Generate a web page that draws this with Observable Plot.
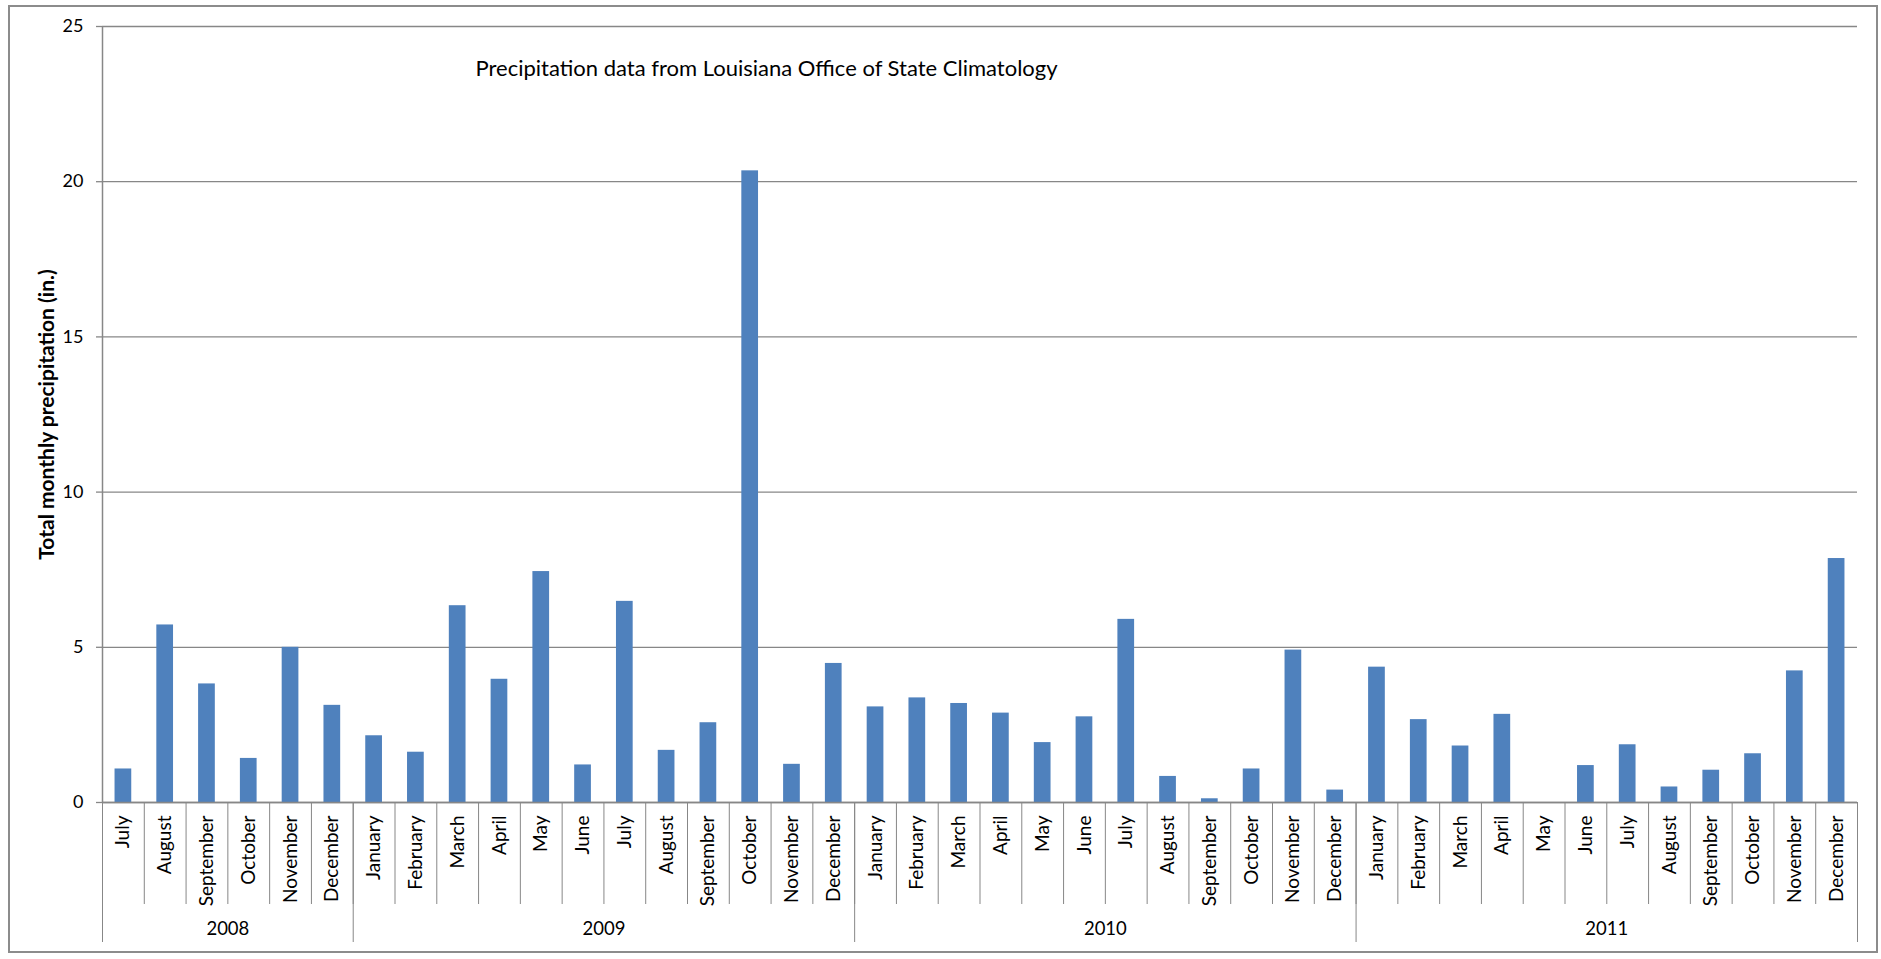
<!DOCTYPE html>
<html>
<head>
<meta charset="utf-8">
<script src="https://cdn.jsdelivr.net/npm/d3@7"></script>
<script src="https://cdn.jsdelivr.net/npm/@observablehq/plot@0.6"></script>
<style>
  html, body { margin: 0; padding: 0; background: #fff; overflow: hidden; }
  #wrap { position: relative; width: 1881px; height: 959px; }
  #border { position: absolute; left: 8px; top: 5px; width: 1866px; height: 944px;
            border: 2px solid #8c8c8c; pointer-events: none; }
</style>
</head>
<body>
<div id="wrap"><div id="border"></div></div>
<script>
const title = "Precipitation data from Louisiana Office of State Climatology";
const yLabel = "Total monthly precipitation (in.)";
const years = ["2008", "2009", "2010", "2011"];
const months2008 = ["July", "August", "September", "October", "November", "December"];
const monthsFull = ["January", "February", "March", "April", "May", "June", "July",
  "August", "September", "October", "November", "December"];
const values2008 = [1.08, 5.72, 3.82, 1.42, 5.00, 3.13];
const values2009 = [2.15, 1.62, 6.34, 3.97, 7.44, 1.21, 6.48, 1.68, 2.57, 20.35, 1.23, 4.48];
const values2010 = [3.08, 3.37, 3.19, 2.88, 1.93, 2.76, 5.90, 0.84, 0.12, 1.08, 4.91, 0.40];
const values2011 = [4.36, 2.67, 1.82, 2.84, 0.00, 1.19, 1.86, 0.50, 1.04, 1.57, 4.24, 7.86];
const yTicks = [0, 5, 10, 15, 20, 25];

// build table
const groups = [
  {year: years[0], months: months2008, values: values2008},
  {year: years[1], months: monthsFull, values: values2009},
  {year: years[2], months: monthsFull, values: values2010},
  {year: years[3], months: monthsFull, values: values2011}
];
const data = [];
const yearSpans = [];
let idx = 0;
for (const g of groups) {
  const start = idx;
  g.months.forEach((m, k) => { data.push({i: idx, month: m, year: g.year, value: g.values[k]}); idx++; });
  yearSpans.push({year: g.year, start, end: idx});
}
const n = data.length;
const monthBounds = d3.range(0, n + 1);
const yearBounds = [0, ...yearSpans.map(s => s.end)];

const W = 1881, H = 959;
const mL = 102, mR = 24, mT = 26, mB = 157;
const step = (W - mL - mR) / n;
const inset = step * 0.3;
const gray = "#878787";
const font = "Lato, 'Open Sans', sans-serif";

const chart = Plot.plot({
  width: W, height: H,
  marginLeft: mL, marginRight: mR, marginTop: mT, marginBottom: mB,
  style: {fontFamily: font, background: "white", color: "black", overflow: "visible"},
  x: {domain: [0, n], axis: null},
  y: {domain: [0, 25], axis: null},
  marks: [
    // gridlines
    Plot.ruleY(yTicks, {stroke: gray, strokeWidth: 1.3}),
    // y ticks
    Plot.ruleY(yTicks, {x1: 0, x2: 0, insetLeft: -6, stroke: gray, strokeWidth: 1.3}),
    Plot.text(yTicks, {x: 0, y: d => d, text: d => String(d), textAnchor: "end", dx: -19, fontSize: 18, fill: "black"}),
    // bars
    Plot.rectY(data, {x1: "i", x2: d => d.i + 1, y: "value", fill: "#4F81BD", insetLeft: inset, insetRight: inset}),
    // y axis line
    Plot.ruleX([0], {stroke: gray, strokeWidth: 1.5}),
    // month separators and year separators below axis
    Plot.ruleX(monthBounds, {x: d => d, y1: 0, y2: 0, insetBottom: -102, stroke: gray, strokeWidth: 1}),
    Plot.ruleX(yearBounds, {x: d => d, y1: 0, y2: 0, insetBottom: -140, stroke: gray, strokeWidth: 1}),
    // x axis line
    Plot.ruleY([0], {stroke: gray, strokeWidth: 1.5}),
    // month labels
    Plot.text(data, {x: d => d.i + 0.5, y: 0, text: "month", rotate: -90, textAnchor: "end", dy: 13, fontSize: 19, fill: "black"}),
    // year labels
    Plot.text(yearSpans, {x: d => (d.start + d.end) / 2, y: 0, text: "year", dy: 127, fontSize: 18.5, fill: "black"}),
    // y label
    Plot.text([yLabel], {frameAnchor: "left", textAnchor: "middle", rotate: -90, dx: -55, fontSize: 21, fontWeight: "bold", fill: "black"}),
    // title
    Plot.text([title], {frameAnchor: "top-left", textAnchor: "start", dx: 373, dy: 34, fontSize: 22, fill: "black"})
  ]
});
document.getElementById("wrap").prepend(chart);
</script>
</body>
</html>
